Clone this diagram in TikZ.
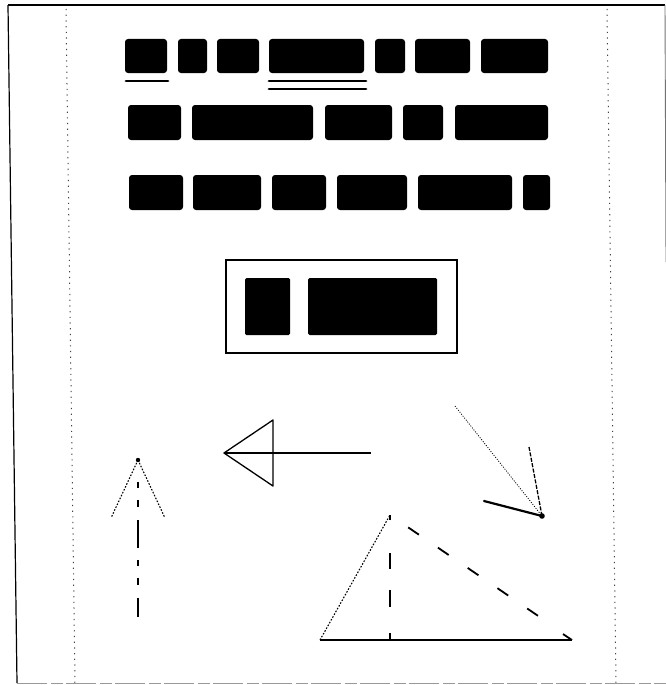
\documentclass[tikz,border=0pt]{standalone}
\begin{document}
\begin{tikzpicture}[x=1pt,y=-1pt,
  blk/.style={fill=black,rounded corners=3pt},
  uline/.style={line width=2.8pt,line cap=round},
  dotln/.style={line width=1.1pt,dash pattern=on 1.6pt off 1.6pt},
  sparsedot/.style={line width=1pt,dash pattern=on 1.2pt off 4.5pt,black!75}]
\useasboundingbox (0,0) rectangle (666,685);
% frame
\coordinate (tl) at (8,5);
\coordinate (tr) at (665,5);
\coordinate (bl) at (17,683);
\coordinate (br) at (666,683);
\coordinate (rmid) at (666,262);
\draw[line width=1.3pt] (tl) -- (tr);
\draw[line width=1.2pt] (tl) -- (bl);
\draw[line width=0.9pt,black!55] (tr) -- (rmid);
\draw[line width=0.9pt,black!40,dash pattern=on 30pt off 4pt on 12pt off 3pt] (bl) -- (br);
% dotted margins
\coordinate (ml1) at (66,9);
\coordinate (ml2) at (75,683);
\coordinate (mr1) at (607,9);
\coordinate (mr2) at (616,683);
\draw[sparsedot] (ml1) -- (ml2);
\draw[sparsedot] (mr1) -- (mr2);
% row 1
\fill[blk] (125,39) rectangle (167,73);
\fill[blk] (178,39) rectangle (207,73);
\fill[blk] (217,39) rectangle (259,73);
\fill[blk] (269,39) rectangle (364,73);
\fill[blk] (375,39) rectangle (405,73);
\fill[blk] (415,39) rectangle (470,73);
\fill[blk] (481,39) rectangle (548,73);
\draw[uline] (126,81) -- (168,81);
\draw[uline] (269,81) -- (366,81);
\draw[uline] (269,89) -- (366,89);
% row 2
\fill[blk] (128,105) rectangle (181,140);
\fill[blk] (192,105) rectangle (313,140);
\fill[blk] (325,105) rectangle (392,140);
\fill[blk] (403,105) rectangle (443,140);
\fill[blk] (455,105) rectangle (548,140);
% row 3
\fill[blk] (129,175) rectangle (183,210);
\fill[blk] (193,175) rectangle (261,210);
\fill[blk] (272,175) rectangle (326,210);
\fill[blk] (337,175) rectangle (407,210);
\fill[blk] (418,175) rectangle (512,210);
\fill[blk] (523,175) rectangle (550,210);
% framed box
\draw[line width=1.5pt] (226,260) rectangle (457,353);
\fill[blk,rounded corners=1.5pt] (245,278) rectangle (290,335);
\fill[blk,rounded corners=1.5pt] (308,278) rectangle (437,335);
% left arrow
\coordinate (la) at (224,453);
\coordinate (lt) at (273,420);
\coordinate (lb) at (273,486);
\coordinate (ls) at (371,453);
\draw[line width=1.6pt] (la) -- (ls);
\draw[line width=1.3pt,line join=round] (la) -- (lt) -- (lb) -- cycle;
% up arrow
\coordinate (ua) at (138,460);
\coordinate (ul) at (111,518);
\coordinate (ur) at (165,518);
\coordinate (us0) at (138,482);
\coordinate (us1) at (138,617);
\fill (ua) circle (2.2pt);
\draw[dotln] (ua) -- (ul);
\draw[dotln] (ua) -- (ur);
\draw[line width=1.1pt,dash pattern=on 6pt off 12pt on 7pt off 13pt on 28pt off 12pt] (us0) -- (us1);
% diagonal arrow
\coordinate (da) at (542,516);
\coordinate (d1) at (455,406);
\coordinate (d2) at (529,447);
\coordinate (d3) at (484,501);
\draw[line width=0.8pt,dash pattern=on 1pt off 1.5pt] (d1) -- (da);
\draw[line width=1.3pt,dash pattern=on 4pt off 1.5pt] (d2) -- (da);
\draw[line width=2.2pt,line cap=round] (d3) -- (da);
\fill (da) circle (2.8pt);
% triangle
\coordinate (tt) at (390,515);
\coordinate (tbl) at (320,640);
\coordinate (tbr) at (572,640);
\coordinate (tbm) at (390,640);
\coordinate (tde) at (550,624);
\coordinate (tah) at (563,634);
\draw[dotln] (tbl) -- (tt);
\draw[line width=1.3pt,dash pattern=on 5pt off 33pt on 16pt off 21pt on 17pt off 26pt on 10pt] (tt) -- (tbm);
\draw[line width=1.8pt,dash pattern=on 13pt off 23pt,dash phase=14pt] (tt) -- (tde);
\draw[line width=2.2pt] (tbl) -- (tbr);
\draw[line width=1.8pt] (tah) -- (tbr);
\end{tikzpicture}
\end{document}
